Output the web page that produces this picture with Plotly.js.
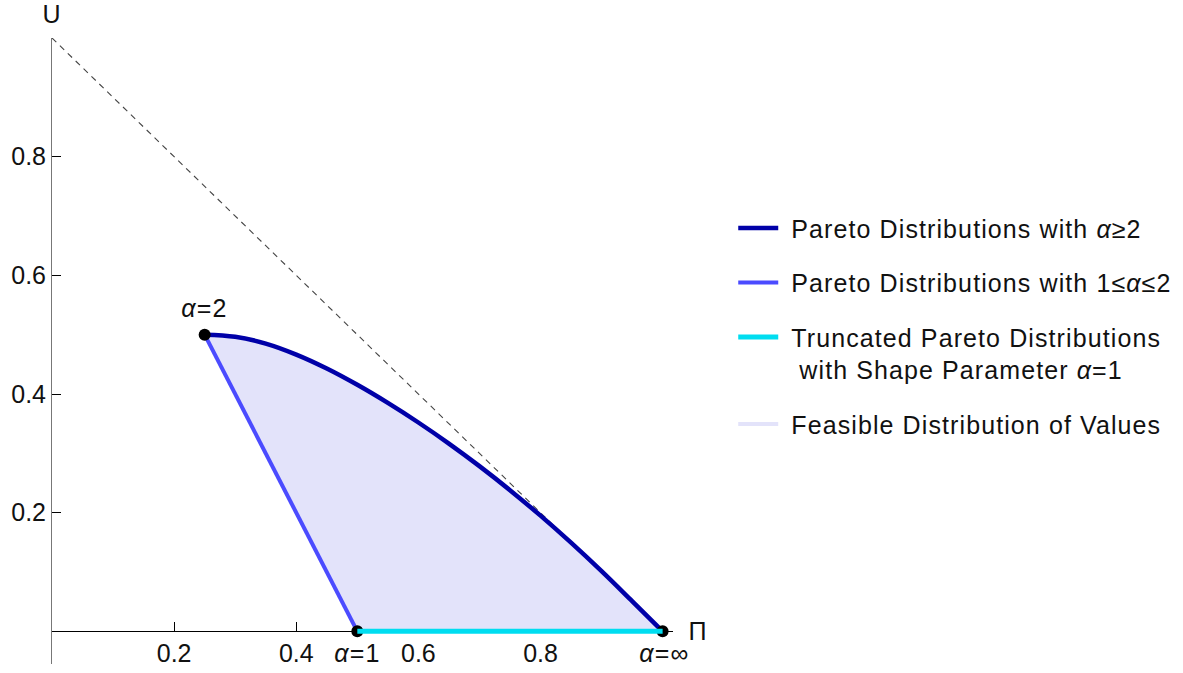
<!DOCTYPE html>
<html>
<head>
<meta charset="utf-8">
<script src="https://cdn.plot.ly/plotly-3.0.1.min.js"></script>
<style>
html, body { margin: 0; padding: 0; background: #fff; }
#chart { width: 1183px; height: 673px; }
#chart .legendtext { letter-spacing: 1.1px; }
#chart .annotation-text { letter-spacing: 1.2px; }
</style>
</head>
<body>
<div id="chart"></div>
<script>
// Pareto distributions with alpha >= 2 (Pi, U)
const paretoHighPi = [0.25, 0.30, 0.35, 0.40, 0.45, 0.50, 0.55, 0.60, 0.65, 0.70, 0.75, 0.80, 0.85, 0.90, 0.95, 1.00];
const paretoHighU  = [0.500, 0.4965, 0.485, 0.4665, 0.443, 0.4155, 0.385, 0.352, 0.3165, 0.2785, 0.238, 0.195, 0.1495, 0.1015, 0.051, 0.000];
// Pareto distributions with 1 <= alpha <= 2
const paretoMidPi = [0.25, 0.50];
const paretoMidU  = [0.50, 0.00];
// Truncated Pareto, alpha = 1
const truncPi = [0.50, 1.00];
const truncU  = [0.00, 0.00];
// Upper bound (dashed)
const boundPi = [0, 1];
const boundU  = [1, 0];
// Labelled points
const pointPi = [0.25, 0.50, 1.00];
const pointU  = [0.50, 0.00, 0.00];
const pointLabels = ['<i>α</i>=2', '<i>α</i>=1', '<i>α</i>=∞'];
// Axis ticks
const tickVals = [0.2, 0.4, 0.6, 0.8];
const tickText = ['0.2', '0.4', '0.6', '0.8'];
// Legend names
const legendNames = [
  '\u00A0Pareto Distributions with <i>α</i>≥2',
  '\u00A0Pareto Distributions with 1≤<i>α</i>≤2',
  '\u00A0Truncated Pareto Distributions<br>\u00A0\u00A0with Shape Parameter <i>α</i>=1',
  '\u00A0Feasible Distribution of Values'
];

const FONT = 'Liberation Sans, Arial, sans-serif';
const C_DARK = '#0000A8';
const C_MID = '#4B4BFF';
const C_CYAN = '#00DDF0';
const C_FILL = '#E3E3FA';

// feasible region polygon built from series
const fillPi = paretoMidPi.slice().reverse().concat(paretoHighPi.slice(1)).concat(truncPi.slice().reverse());
const fillU = paretoMidU.slice().reverse().concat(paretoHighU.slice(1)).concat(truncU.slice().reverse());

const yMin = -0.055, yMax = 1.0;
const xAxisPos = (0 - yMin) / (yMax - yMin);

const traces = [
  {x: fillPi, y: fillU, mode: 'lines', fill: 'toself', fillcolor: C_FILL,
   line: {color: C_FILL, width: 0}, showlegend: false, hoverinfo: 'skip'},
  {x: boundPi, y: boundU, mode: 'lines', line: {color: '#444', width: 1.1, dash: '6px,5px'},
   showlegend: false, hoverinfo: 'skip'},
  {x: paretoHighPi, y: paretoHighU, mode: 'lines', line: {color: C_DARK, width: 4.5, shape: 'spline', smoothing: 1},
   name: legendNames[0], legendrank: 1, legendgroup: 'a'},
  {x: paretoMidPi, y: paretoMidU, mode: 'lines', line: {color: C_MID, width: 4},
   name: legendNames[1], legendrank: 2, legendgroup: 'b'},
  {x: pointPi.slice(1), y: pointU.slice(1), mode: 'markers', marker: {color: '#000', size: 12},
   showlegend: false, hoverinfo: 'skip'},
  {x: truncPi, y: truncU, mode: 'lines', line: {color: C_CYAN, width: 5},
   name: legendNames[2], legendrank: 3, legendgroup: 'c'},
  {x: pointPi.slice(0, 1), y: pointU.slice(0, 1), mode: 'markers', marker: {color: '#000', size: 12},
   showlegend: false, hoverinfo: 'skip'},
  {x: [null], y: [null], mode: 'lines', line: {color: C_FILL, width: 4},
   name: legendNames[3], legendrank: 4, legendgroup: 'd'}
];

const annFont = {family: FONT, size: 25, color: '#111'};
const annotations = [
  {x: pointPi[0], y: pointU[0], xref: 'x', yref: 'y', text: pointLabels[0], showarrow: false,
   yanchor: 'bottom', yshift: 11, font: annFont},
  {x: pointPi[1], y: pointU[1], xref: 'x', yref: 'y', text: pointLabels[1], showarrow: false,
   yanchor: 'top', yshift: -6, font: annFont},
  {x: pointPi[2], y: pointU[2], xref: 'x', yref: 'y', text: pointLabels[2], showarrow: false,
   yanchor: 'top', yshift: -6, xshift: 2, font: annFont},
  {x: 0, y: 1, xref: 'x', yref: 'y', text: 'U', showarrow: false,
   yanchor: 'bottom', yshift: 8, font: annFont},
  {x: 1.017, y: 0, xref: 'x', yref: 'y', text: 'Π', showarrow: false,
   xanchor: 'left', xshift: 14, font: annFont}
];

const layout = {
  width: 1183, height: 673,
  margin: {l: 52, r: 510, t: 38, b: 9},
  paper_bgcolor: '#fff', plot_bgcolor: '#fff',
  font: {family: FONT, size: 25, color: '#111'},
  showlegend: true,
  legend: {x: 1.097, y: 0.733, xanchor: 'left', yanchor: 'top', bgcolor: 'rgba(0,0,0,0)',
           font: {family: FONT, size: 25, color: '#111'}, itemwidth: 40, tracegroupgap: 19,
           traceorder: 'grouped', valign: 'top'},
  xaxis: {range: [0, 1.017], showgrid: false, zeroline: false, showline: true, linecolor: '#000', linewidth: 1,
          anchor: 'free', position: xAxisPos, ticks: 'inside', ticklen: 9, tickcolor: '#000', layer: 'below traces',
          tickvals: tickVals, ticktext: tickText, tickfont: {family: FONT, size: 25, color: '#111'}},
  yaxis: {range: [yMin, yMax], showgrid: false, zeroline: false, showline: true, linecolor: '#777', linewidth: 1,
          ticks: 'inside', ticklen: 9, tickcolor: '#000', layer: 'below traces',
          tickvals: tickVals, ticktext: tickText, tickfont: {family: FONT, size: 25, color: '#111'}},
  annotations: annotations
};

Plotly.newPlot('chart', traces, layout, {displayModeBar: false, staticPlot: true}).then(function (gd) {
  // letter-spacing widens legend text beyond Plotly's measured box; lift the clip
  gd.querySelectorAll('.legend [clip-path]').forEach(function (el) { el.removeAttribute('clip-path'); });
});
</script>
</body>
</html>
